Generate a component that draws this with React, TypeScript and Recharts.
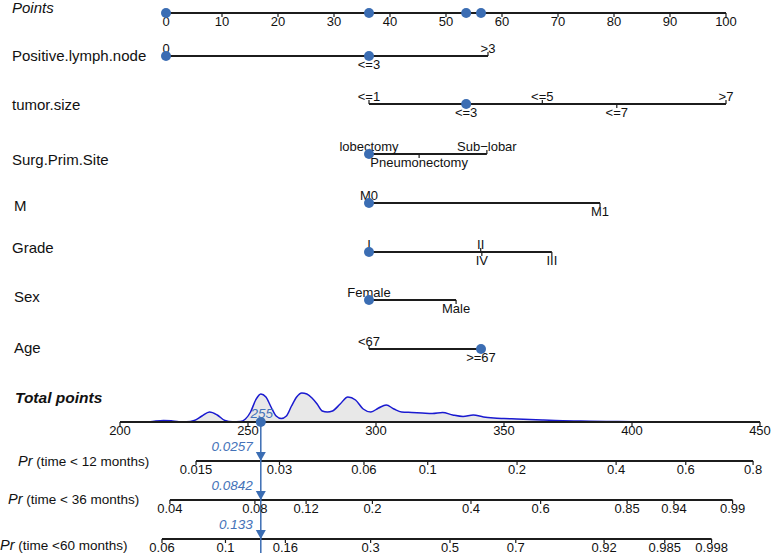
import React from "react";
import {
  ComposedChart,
  XAxis,
  YAxis,
  Scatter,
  Area,
  ReferenceLine,
} from "recharts";

// ---- data ----
const pointTicks = [0, 10, 20, 30, 40, 50, 60, 70, 80, 90, 100];
const pointMarks = [0, 36.25, 53.6, 56.25];

const lymphLevels = ["0", "<=3", ">3"];
const lymphPoints = [0, 36.25, 57.5];
const tumorLevels = ["<=1", "<=3", "<=5", "<=7", ">7"];
const tumorPoints = [36.25, 53.6, 67.2, 80.5, 100];
const surgLevels = ["lobectomy", "Pneumonectomy", "Sub\u2212lobar"];
const surgPoints = [36.25, 45.2, 57.3];
const mLevels = ["M0", "M1"];
const mPoints = [36.25, 77.5];
const gradeLevels = ["I", "II", "IV", "III"];
const gradePoints = [36.25, 56.2, 56.4, 68.9];
const sexLevels = ["Female", "Male"];
const sexPoints = [36.25, 51.8];
const ageLevels = ["<67", ">=67"];
const agePoints = [36.25, 56.25];

// chosen patient
const selectedLevels = ["0", "<=3", "lobectomy", "M0", "I", "Female", ">=67"];

const totalTicks = [200, 250, 300, 350, 400, 450];
const totalSelected = 255;

// density of total points (height above axis)
const densX = [211, 214, 217, 220, 223, 226, 229, 232, 235, 238, 241, 244, 247, 249, 251, 253, 255, 257, 259, 261, 263, 265, 267, 269, 271, 273, 275, 277, 279, 281, 283, 286, 289, 292, 295, 298, 301, 304, 307, 310, 314, 318, 322, 326, 330, 334, 338, 342, 346, 350, 355, 360, 365, 370, 380, 390, 400, 410];
const densY = [0, 1, 1.5, 1.2, 0.3, 0.2, 1.5, 6, 10, 7, 1.5, 0.3, 0.5, 3, 10, 22, 28, 25, 15, 6, 3.5, 6, 16, 25, 29, 28, 24, 18, 11, 10, 11, 18, 25, 22, 13, 10, 14, 17, 13, 10, 9.5, 9, 8.5, 9.5, 7, 5.5, 7, 5, 4, 3.5, 3, 2.5, 2, 1.5, 1, 0.6, 0.3, 0];

const pr12Labels = ["0.015", "0.03", "0.06", "0.1", "0.2", "0.4", "0.6", "0.8"];
const pr12Total = [229.7, 262.3, 295.3, 320.2, 355.1, 393.8, 421.0, 447.3];
const pr36Labels = ["0.04", "0.08", "0.12", "0.2", "0.4", "0.6", "0.85", "0.94", "0.99"];
const pr36Total = [219.5, 252.7, 272.7, 298.6, 337.1, 364.3, 398.1, 416.4, 439.3];
const pr60Labels = ["0.06", "0.1", "0.16", "0.3", "0.5", "0.7", "0.92", "0.985", "0.998"];
const pr60Total = [216.4, 241.2, 264.6, 297.9, 328.9, 354.6, 389.1, 412.8, 431.1];
const predicted = ["0.0257", "0.0842", "0.133"];

const rowLabels = [
  "Points",
  "Positive.lymph.node",
  "tumor.size",
  "Surg.Prim.Site",
  "M",
  "Grade",
  "Sex",
  "Age",
  "Total points",
  "time < 12 months)",
  "time < 36 months)",
  "time <60 months)",
];

// ---- layout ----
const W = 772;
const H = 553;
const PLOT_L = 1;
const PLOT_R = W;
const PTS0 = 166; // pixel of 0 points
const PTS100 = 726; // pixel of 100 points
const ptsPerPx = 100 / (PTS100 - PTS0);
const ptsDomain = [(PLOT_L - PTS0) * ptsPerPx, 100 + (PLOT_R - PTS100) * ptsPerPx];
const TOT200 = 120; // pixel of 200 total points
const totPerPx = 50 / 128;
const totDomain = [200 + (PLOT_L - TOT200) * totPerPx, 200 + (PLOT_R - TOT200) * totPerPx];

const Y = {
  points: 13,
  lymph: 56,
  tumor: 104,
  surg: 154,
  m: 203,
  grade: 252,
  sex: 300,
  age: 349,
  total: 422,
  pr12: 461,
  pr36: 500,
  pr60: 539,
};
const rowLabelY = [7, 55, 104, 159, 205, 247, 296, 347, 397, 461, 499, 545];
const rowLabelX = [12, 12, 12, 12, 14, 12, 14, 14, 15, 18, 8, 0];

const lymphSide = ["up", "down", "up"];
const tumorSide = ["up", "down", "up", "down", "up"];
const surgSide = ["up", "down", "up"];
const mSide = ["up", "down"];
const gradeSide = ["up", "up", "down", "down"];
const sexSide = ["up", "down"];
const ageSide = ["up", "down"];

const INK = "#1c1c1c";
const DOT = "#3b6db3";
const BLUE_TXT = "#4472b8";
const FONT = "'Liberation Sans', Arial, sans-serif";

const rows = [
  { y: Y.lymph, levels: lymphLevels, pts: lymphPoints, side: lymphSide },
  { y: Y.tumor, levels: tumorLevels, pts: tumorPoints, side: tumorSide },
  { y: Y.surg, levels: surgLevels, pts: surgPoints, side: surgSide },
  { y: Y.m, levels: mLevels, pts: mPoints, side: mSide },
  { y: Y.grade, levels: gradeLevels, pts: gradePoints, side: gradeSide },
  { y: Y.sex, levels: sexLevels, pts: sexPoints, side: sexSide },
  { y: Y.age, levels: ageLevels, pts: agePoints, side: ageSide },
];

const rowTicks = rows.flatMap((r) =>
  r.levels.map((l, i) => ({ x: r.pts[i], y: r.y, label: l, side: r.side[i] }))
);
const rowDots = rows.flatMap((r) =>
  r.levels
    .map((l, i) => ({ x: r.pts[i], y: r.y, sel: selectedLevels.includes(l) }))
    .filter((d) => d.sel)
);
const pointTickData = pointTicks.map((p) => ({ x: p, y: Y.points, label: String(p), side: "down" }));
const pointMarkData = pointMarks.map((p) => ({ x: p, y: Y.points }));
const totalTickData = totalTicks.map((t) => ({ x: t, y: Y.total, label: String(t), side: "down" }));
const densData = densX.map((x, i) => ({ x, d: densY[i] }));
const prAxes = [
  { y: Y.pr12, labels: pr12Labels, tot: pr12Total },
  { y: Y.pr36, labels: pr36Labels, tot: pr36Total },
  { y: Y.pr60, labels: pr60Labels, tot: pr60Total },
];
const prTickData = prAxes.flatMap((a) =>
  a.labels.map((l, i) => ({ x: a.tot[i], y: a.y, label: l, side: "down" }))
);
const arrowData = prAxes.map((a, i) => ({ x: totalSelected, y: a.y, label: predicted[i] }));

const TickShape = (props: any) => {
  const { cx, cy, payload } = props;
  const up = payload.side === "up";
  return (
    <g>
      <line x1={cx} y1={cy} x2={cx} y2={up ? cy - 4 : cy + 4} stroke={INK} strokeWidth={1.2} />
      <text
        x={cx}
        y={up ? cy - 3.5 : cy + 12.5}
        textAnchor="middle"
        fontSize={13}
        fontFamily={FONT}
        fill="#111"
      >
        {payload.label}
      </text>
    </g>
  );
};

const DotShape = (props: any) => (
  <circle cx={props.cx} cy={props.cy} r={5} fill={DOT} />
);

const ArrowShape = (props: any) => {
  const { cx, cy, payload } = props;
  return (
    <g>
      <polygon points={`${cx - 5},${cy - 9} ${cx + 5},${cy - 9} ${cx},${cy}`} fill={DOT} />
      <text
        x={cx - 8}
        y={cy - 10}
        textAnchor="end"
        fontSize={13.5}
        fontStyle="italic"
        fontFamily={FONT}
        fill={BLUE_TXT}
      >
        {payload.label}
      </text>
    </g>
  );
};

const SelectedShape = (props: any) => {
  const { cx, cy } = props;
  return (
    <g>
      <circle cx={cx} cy={cy} r={5} fill={DOT} />
      <text x={cx + 1} y={cy - 4} textAnchor="middle" fontSize={13.5} fontStyle="italic" fontFamily={FONT} fill={BLUE_TXT}>
        {totalSelected}
      </text>
    </g>
  );
};

const RowLabel = (props: any) => {
  const { index } = props;
  const y = rowLabelY[index];
  const x = rowLabelX[index];
  const text = rowLabels[index];
  if (index === 0) {
    return (
      <text x={x} y={y} dominantBaseline="central" fontSize={15} fontStyle="italic" fontFamily={FONT} fill="#111">
        {text}
      </text>
    );
  }
  if (index === 8) {
    return (
      <text x={x} y={y} dominantBaseline="central" fontSize={15.5} fontStyle="italic" fontWeight="bold" fontFamily={FONT} fill="#111">
        {text}
      </text>
    );
  }
  if (index >= 9) {
    return (
      <text x={x} y={y} dominantBaseline="central" fontSize={13.5} fontFamily={FONT} fill="#111">
        <tspan fontStyle="italic" fontSize={14.5}>Pr</tspan>
        <tspan> ({text}</tspan>
      </text>
    );
  }
  return (
    <text x={x} y={y} dominantBaseline="central" fontSize={15} fontFamily={FONT} fill="#111">
      {text}
    </text>
  );
};

export default function App() {
  return (
    <div style={{ width: W, height: H, background: "#fff" }}>
      <style>{`body{margin:0}`}</style>
      <ComposedChart width={W} height={H} margin={{ top: 0, right: W - PLOT_R, bottom: 0, left: 0 }}>
        <XAxis xAxisId="pts" type="number" dataKey="x" domain={ptsDomain} hide allowDataOverflow />
        <XAxis xAxisId="tot" type="number" dataKey="x" domain={totDomain} hide allowDataOverflow />
        <YAxis
          yAxisId="rows"
          type="number"
          dataKey="y"
          domain={[0, H]}
          reversed
          allowDataOverflow
          width={PLOT_L}
          ticks={rowLabelY}
          interval={0}
          tick={RowLabel}
          axisLine={false}
          tickLine={false}
        />
        <YAxis yAxisId="dens" type="number" domain={[-(H - Y.total), Y.total]} hide allowDataOverflow />

        <Area
          xAxisId="tot"
          yAxisId="dens"
          data={densData}
          dataKey="d"
          type="monotone"
          baseValue={0}
          stroke="#1a1ad0"
          strokeWidth={1.5}
          fill="#e6e6e6"
          fillOpacity={0.9}
          isAnimationActive={false}
        />

        <ReferenceLine xAxisId="pts" yAxisId="rows" segment={[{ x: 0, y: Y.points }, { x: 100, y: Y.points }]} stroke={INK} strokeWidth={1.8} ifOverflow="visible" />
        {rows.map((r, i) => (
          <ReferenceLine
            key={i}
            xAxisId="pts"
            yAxisId="rows"
            segment={[{ x: Math.min(...r.pts), y: r.y }, { x: Math.max(...r.pts), y: r.y }]}
            stroke={INK}
            strokeWidth={1.8}
            ifOverflow="visible"
          />
        ))}
        <ReferenceLine xAxisId="tot" yAxisId="rows" segment={[{ x: 200, y: Y.total }, { x: 450, y: Y.total }]} stroke={INK} strokeWidth={1.8} ifOverflow="visible" />
        {prAxes.map((a, i) => (
          <ReferenceLine
            key={"pr" + i}
            xAxisId="tot"
            yAxisId="rows"
            segment={[{ x: a.tot[0], y: a.y }, { x: a.tot[a.tot.length - 1], y: a.y }]}
            stroke={INK}
            strokeWidth={1.8}
            ifOverflow="visible"
          />
        ))}
        <ReferenceLine xAxisId="tot" yAxisId="rows" segment={[{ x: totalSelected, y: Y.total }, { x: totalSelected, y: H }]} stroke={DOT} strokeWidth={1.5} ifOverflow="visible" />

        <Scatter xAxisId="pts" yAxisId="rows" data={pointTickData} shape={TickShape} isAnimationActive={false} />
        <Scatter xAxisId="pts" yAxisId="rows" data={rowTicks} shape={TickShape} isAnimationActive={false} />
        <Scatter xAxisId="tot" yAxisId="rows" data={totalTickData} shape={TickShape} isAnimationActive={false} />
        <Scatter xAxisId="tot" yAxisId="rows" data={prTickData} shape={TickShape} isAnimationActive={false} />

        <Scatter xAxisId="pts" yAxisId="rows" data={pointMarkData} shape={DotShape} isAnimationActive={false} />
        <Scatter xAxisId="pts" yAxisId="rows" data={rowDots} shape={DotShape} isAnimationActive={false} />
        <Scatter xAxisId="tot" yAxisId="rows" data={[{ x: totalSelected, y: Y.total }]} shape={SelectedShape} isAnimationActive={false} />
        <Scatter xAxisId="tot" yAxisId="rows" data={arrowData} shape={ArrowShape} isAnimationActive={false} />
      </ComposedChart>
    </div>
  );
}
